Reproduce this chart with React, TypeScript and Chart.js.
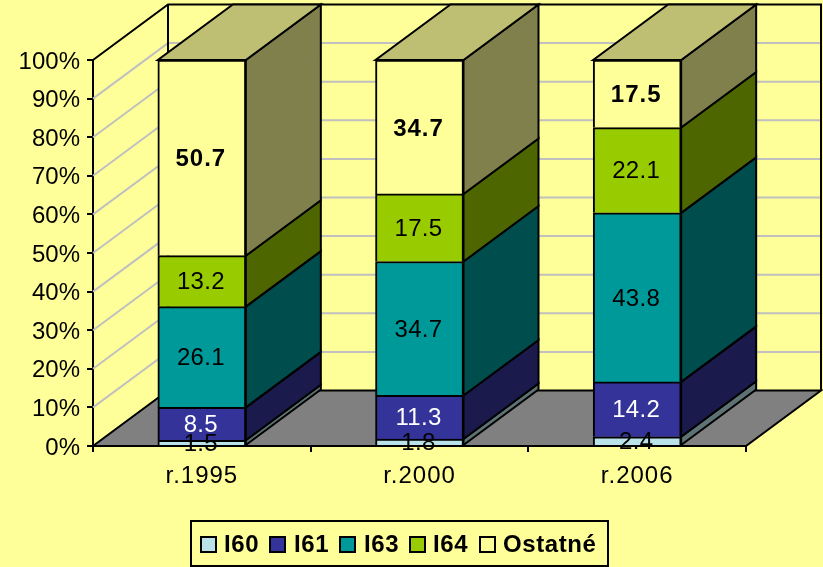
import React, { useEffect, useRef } from "react";
import { Chart, registerables } from "chart.js";

Chart.register(...registerables);

const categories = ["r.1995", "r.2000", "r.2006"];
const seriesNames = ["I60", "I61", "I63", "I64", "Ostatné"];
const i60 = [1.5, 1.8, 2.4];
const i61 = [8.5, 11.3, 14.2];
const i63 = [26.1, 34.7, 43.8];
const i64 = [13.2, 17.5, 22.1];
const ostatne = [50.7, 34.7, 17.5];
const seriesValues = [i60, i61, i63, i64, ostatne];
const frontColors = ["#B9E3E8", "#333399", "#009999", "#99CC00", "#FFFF99"];
const sideColors = ["#5D7274", "#1A1A4D", "#004D4D", "#4D6600", "#80804D"];
const topColor = "#BFBF73";
const labelColors = ["#000000", "#FFFFFF", "#000000", "#000000", "#000000"];
const labelWeights = ["normal", "normal", "normal", "normal", "bold"];

const BG = "#FFFF99";
const FONT = "'Liberation Sans', Arial, sans-serif";
const DX = 75;
const DY = -55.5;

function poly(ctx: CanvasRenderingContext2D, pts: number[][], fill: string | null, stroke = "#000", lw = 2) {
  ctx.beginPath();
  pts.forEach((p, i) => (i ? ctx.lineTo(p[0], p[1]) : ctx.moveTo(p[0], p[1])));
  ctx.closePath();
  if (fill) {
    ctx.fillStyle = fill;
    ctx.fill();
  }
  if (stroke) {
    ctx.strokeStyle = stroke;
    ctx.lineWidth = lw;
    ctx.stroke();
  }
}

const walls3d = {
  id: "walls3d",
  beforeDatasetsDraw(chart: any) {
    const { ctx, chartArea: a, scales } = chart;
    const y = scales.y;
    ctx.save();
    ctx.lineJoin = "miter";
    // gridlines on left and back walls
    ctx.strokeStyle = "#C0C0C0";
    ctx.lineWidth = 2;
    y.ticks.forEach((t: any) => {
      const py = y.getPixelForValue(t.value);
      if (t.value === 0 || t.value === 100) return;
      ctx.beginPath();
      ctx.moveTo(a.left, py);
      ctx.lineTo(a.left + DX, py + DY);
      ctx.lineTo(a.right + DX, py + DY);
      ctx.stroke();
    });
    // floor
    poly(ctx, [
      [a.left, a.bottom],
      [a.right, a.bottom],
      [a.right + DX, a.bottom + DY],
      [a.left + DX, a.bottom + DY],
    ], "#808080", "#000", 2);
    // wall edges
    ctx.strokeStyle = "#000";
    ctx.lineWidth = 2;
    ctx.beginPath();
    ctx.moveTo(a.left, a.top);
    ctx.lineTo(a.left + DX, a.top + DY);
    ctx.lineTo(a.right + DX, a.top + DY);
    ctx.lineTo(a.right + DX, a.bottom + DY);
    ctx.moveTo(a.left + DX, a.top + DY);
    ctx.lineTo(a.left + DX, a.bottom + DY);
    ctx.stroke();

    // bar side and top faces
    categories.forEach((_, ci) => {
      const last = chart.getDatasetMeta(seriesValues.length - 1).data[ci];
      seriesValues.forEach((_s, si) => {
        const b: any = chart.getDatasetMeta(si).data[ci];
        const right = b.x + b.width / 2;
        poly(ctx, [
          [right, b.base],
          [right + DX, b.base + DY],
          [right + DX, b.y + DY],
          [right, b.y],
        ], sideColors[si]);
      });
      const l = last.x - last.width / 2;
      const r = last.x + last.width / 2;
      poly(ctx, [
        [l, last.y],
        [r, last.y],
        [r + DX, last.y + DY],
        [l + DX, last.y + DY],
      ], topColor);
    });
    ctx.restore();
  },
  afterDatasetsDraw(chart: any) {
    const { ctx } = chart;
    ctx.save();
    ctx.textAlign = "center";
    ctx.textBaseline = "middle";
    seriesValues.forEach((vals, si) => {
      chart.getDatasetMeta(si).data.forEach((b: any, ci: number) => {
        const bold = labelWeights[si] === "bold";
        ctx.font = `${labelWeights[si]} 24px ${FONT}`;
        ctx.letterSpacing = bold ? "1px" : "0.3px";
        ctx.fillStyle = labelColors[si];
        ctx.fillText(vals[ci].toFixed(1), b.x - 1, (b.y + b.base) / 2 + (bold ? 2 : 1.5));
      });
    });
    ctx.restore();
    // x tick labels (z: 1) are drawn after this hook and are spaced like the reference
    ctx.letterSpacing = "1px";
  },
  afterDraw(chart: any) {
    const { ctx } = chart;
    ctx.letterSpacing = "0px";
    ctx.save();
    // legend frame
    ctx.strokeStyle = "#000";
    ctx.lineWidth = 2;
    ctx.strokeRect(191, 521, 417, 45);
    const boxX = [201, 270, 340, 410, 480];
    const textX = [224, 294, 364, 433, 503];
    ctx.font = `bold 24px ${FONT}`;
    ctx.textAlign = "left";
    ctx.textBaseline = "alphabetic";
    ctx.letterSpacing = "0.6px";
    seriesNames.forEach((name, i) => {
      ctx.fillStyle = frontColors[i];
      ctx.fillRect(boxX[i], 537, 15, 15);
      ctx.strokeRect(boxX[i], 537, 15, 15);
      ctx.fillStyle = "#000";
      ctx.fillText(name, textX[i], 552);
    });
    ctx.restore();
    ctx.letterSpacing = "0px";
  },
};

export default function App() {
  const ref = useRef<HTMLCanvasElement>(null);
  useEffect(() => {
    document.body.style.margin = "0";
    document.body.style.background = BG;
    const chart = new Chart(ref.current!, {
      type: "bar",
      data: {
        labels: categories,
        datasets: seriesNames.map((name, i) => ({
          label: name,
          data: seriesValues[i],
          backgroundColor: frontColors[i],
          borderColor: "#000",
          borderWidth: 2,
          barThickness: 88,
          borderSkipped: "bottom",
        })),
      },
      options: {
        responsive: false,
        animation: false,
        layout: { padding: { left: 0, right: 77, top: 60, bottom: 0 } },
        plugins: {
          legend: { display: false },
          title: { display: false },
          tooltip: { enabled: false },
        },
        scales: {
          x: {
            stacked: true,
            afterFit(s: any) {
              s.height = 121;
            },
            grid: {
              offset: true,
              drawOnChartArea: false,
              drawTicks: true,
              tickLength: 6,
              color: "#000",
              lineWidth: 2,
            },
            border: { display: true, color: "#000", width: 2, z: 1 },
            ticks: { color: "#000", font: { family: FONT, size: 24 }, padding: 10, maxRotation: 0, z: 1 },
          },
          y: {
            stacked: true,
            min: 0,
            max: 100,
            afterFit(s: any) {
              s.width = 93;
            },
            grid: {
              drawOnChartArea: false,
              drawTicks: true,
              tickLength: 6,
              color: "#000",
              lineWidth: 2,
            },
            border: { display: true, color: "#000", width: 2 },
            ticks: {
              stepSize: 10,
              color: "#000",
              font: { family: FONT, size: 24 },
              padding: 7,
              labelOffset: 2,
              callback: (v: any) => `${v}%`,
            },
          },
        },
      },
      plugins: [walls3d],
    } as any);
    return () => chart.destroy();
  }, []);
  return (
    <div style={{ position: "absolute", left: 0, top: 0, width: 823, height: 567, background: BG }}>
      <canvas ref={ref} width={823} height={567} style={{ display: "block" }} />
    </div>
  );
}
